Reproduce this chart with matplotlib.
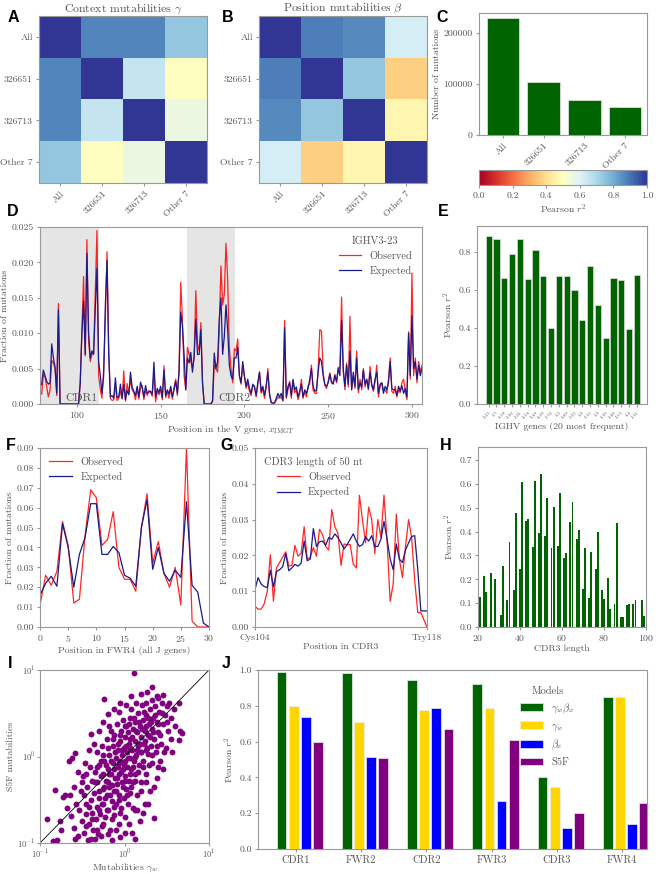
import matplotlib
matplotlib.use("Agg")
import matplotlib.pyplot as plt
import numpy as np
from matplotlib.ticker import FormatStrFormatter, NullLocator

plt.rcParams['font.family'] = 'serif'
plt.rcParams['font.serif'] = ['cmr10', 'DejaVu Serif']
plt.rcParams['mathtext.fontset'] = 'cm'
plt.rcParams['axes.formatter.use_mathtext'] = True
plt.rcParams['axes.unicode_minus'] = False
plt.rcParams['font.size'] = 7
plt.rcParams['axes.edgecolor'] = '#999999'
plt.rcParams['axes.linewidth'] = 0.8
plt.rcParams['xtick.color'] = '#999999'
plt.rcParams['ytick.color'] = '#999999'
plt.rcParams['xtick.labelcolor'] = '#555555'
plt.rcParams['ytick.labelcolor'] = '#555555'
plt.rcParams['axes.labelcolor'] = '#555555'
plt.rcParams['text.color'] = '#555555'
plt.rcParams['xtick.major.size'] = 2.5
plt.rcParams['ytick.major.size'] = 2.5
plt.rcParams['xtick.major.pad'] = 2
plt.rcParams['ytick.major.pad'] = 2
plt.rcParams['axes.labelpad'] = 2

# ---------------- data ----------------
groups = ['All', '326651', '326713', 'Other 7']
gamma_corr = [[1.00, 0.87, 0.87, 0.74],
              [0.87, 1.00, 0.65, 0.50],
              [0.87, 0.65, 1.00, 0.56],
              [0.74, 0.50, 0.56, 1.00]]
beta_corr = [[1.00, 0.88, 0.86, 0.62],
             [0.88, 1.00, 0.74, 0.37],
             [0.86, 0.74, 1.00, 0.47],
             [0.62, 0.37, 0.47, 1.00]]
n_mutations = [228000, 103000, 69000, 54000]

# panel D, positions 78..306, values in units of 1e-3
v_expected = [2.5, 2.8, 4.8, 4.0, 3.2, 2.8, 3.0, 8.5, 6.5, 5.2,
              1.5, 13.3, 0, 0, 0, 0, 0, 0, 0, 0,
              0, 0, 0, 0, 3.0, 10.0, 14.5, 7.0, 21.3, 10.0,
              6.5, 7.5, 7.0, 13.5, 19.2, 6.0, 4.0, 1.5, 4.0, 14.0,
              20.3, 7.0, 1.0, 1.2, 0.8, 3.7, 0.9, 1.0, 2.8, 0.8,
              2.8, 0.6, 1.9, 1.3, 4.5, 2.4, 1.8, 1.2, 2.5, 1.0,
              3.1, 2.3, 1.0, 2.6, 1.5, 1.7, 1.8, 1.4, 5.9, 1.0,
              2.2, 1.6, 2.5, 0.9, 4.8, 1.2, 2.0, 1.4, 2.5, 1.0,
              2.0, 3.2, 1.5, 4.5, 13.0, 11.0, 7.0, 2.0, 6.5, 5.8,
              7.3, 4.5, 6.8, 12.0, 7.0, 7.0, 10.5, 3.0, 0, 0,
              0, 0, 0, 0.5, 7.2, 5.0, 6.0, 12.0, 15.0, 7.0,
              9.5, 14.0, 10.5, 5.5, 4.0, 3.5, 6.5, 6.5, 8.0, 4.0,
              3.0, 6.0, 4.0, 2.5, 3.5, 2.2, 1.5, 2.8, 2.4, 1.2,
              3.0, 4.5, 1.8, 2.5, 1.2, 2.6, 4.5, 1.5, 0.2, 0.1,
              0.2, 0.8, 1.5, 1.0, 1.5, 0.5, 10.8, 1.0, 2.5, 3.0,
              1.2, 3.5, 2.0, 2.4, 1.0, 1.8, 2.8, 1.0, 2.0, 1.5,
              2.2, 3.5, 5.0, 2.5, 1.8, 2.0, 4.5, 6.5, 6.0, 4.0,
              2.8, 2.5, 3.0, 4.2, 3.0, 2.8, 4.0, 3.2, 5.0, 4.0,
              11.8, 5.0, 2.5, 5.5, 2.8, 7.5, 2.0, 4.5, 2.5, 6.5,
              2.0, 3.0, 2.4, 4.8, 2.8, 3.5, 2.2, 4.5, 2.8, 2.0,
              3.5, 4.5, 1.5, 2.8, 3.0, 1.5, 2.5, 2.0, 3.0, 6.0,
              2.2, 2.0, 2.0, 1.2, 2.5, 1.8, 2.6, 1.5, 2.2, 1.0,
              10.0, 4.0, 12.5, 5.0, 6.0, 3.5, 5.5, 4.0, 5.0]
v_observed = [1.5, 1.4, 4.2, 3.8, 2.4, 1.0, 2.0, 6.2, 5.8, 5.0,
              1.2, 14.2, 0, 0, 0, 0, 0, 0, 0, 0,
              0, 0, 0, 0, 2.8, 10.2, 18.0, 6.8, 23.2, 9.0,
              6.0, 7.0, 7.2, 16.0, 24.5, 4.0, 2.0, 0.8, 5.0, 12.0,
              21.5, 8.0, 0.8, 0.5, 0.6, 2.6, 0.5, 0.8, 1.8, 0.7,
              4.7, 0.4, 2.9, 1.4, 3.5, 2.0, 1.6, 0.6, 2.2, 0.7,
              2.3, 2.6, 0.6, 2.0, 1.2, 1.9, 1.6, 1.1, 4.5, 0.3,
              1.8, 1.3, 2.0, 0.6, 5.4, 0.9, 1.8, 0.8, 2.2, 0.7,
              2.4, 3.5, 1.2, 5.0, 17.2, 12.0, 4.0, 2.0, 8.0, 7.0,
              6.0, 5.0, 6.5, 16.0, 8.5, 7.5, 11.5, 3.0, 0, 0,
              0, 0, 0, 0.3, 5.5, 5.0, 4.5, 10.8, 19.5, 14.0,
              15.5, 22.7, 17.5, 8.0, 5.0, 3.0, 7.8, 7.5, 9.2, 4.0,
              2.8, 5.5, 3.8, 2.2, 3.0, 1.8, 1.2, 2.6, 2.6, 1.0,
              2.8, 4.5, 1.5, 2.2, 0.8, 2.4, 5.0, 1.2, 0.2, 0.1,
              0.1, 0.5, 1.0, 0.8, 1.0, 0.4, 11.8, 0.8, 2.0, 3.2,
              0.8, 3.2, 1.6, 2.0, 0.6, 1.4, 3.5, 0.8, 1.8, 1.0,
              2.6, 2.8, 5.5, 2.0, 1.5, 1.5, 4.8, 10.5, 10.3, 4.5,
              2.6, 2.2, 3.2, 4.4, 3.2, 3.0, 4.2, 3.0, 5.2, 5.0,
              15.1, 4.5, 2.0, 5.8, 2.4, 12.4, 2.0, 4.0, 2.2, 7.5,
              1.6, 3.5, 2.0, 5.0, 2.4, 3.5, 2.0, 5.3, 2.6, 1.8,
              3.2, 5.5, 1.0, 2.5, 3.0, 2.0, 2.0, 1.5, 3.5, 6.5,
              1.8, 1.5, 2.5, 1.0, 2.0, 1.6, 3.0, 3.5, 1.8, 0.6,
              10.2, 3.5, 18.5, 4.0, 6.5, 3.0, 6.0, 4.5, 5.5]
v_start = 78
cdr_regions = [('CDR1', 78, 113), ('CDR2', 166, 194.5)]

genes = ['3-23', '3-7', '4-59', '3-30', '3-21', '4-34', '3-48', '4-39', '3-74', '1-2',
         '1-69', '3-33', '1-8', '3-15', '3-9', '1-18', '1-46', '3-53', '4-4', '3-11']
gene_r2 = [0.885, 0.865, 0.66, 0.79, 0.865, 0.655, 0.81, 0.67, 0.40, 0.67,
           0.67, 0.60, 0.44, 0.725, 0.52, 0.345, 0.66, 0.65, 0.395, 0.675]

fwr4_obs = [0.011, 0.026, 0.021, 0.028, 0.053, 0.041, 0.012, 0.014, 0.046, 0.069,
            0.065, 0.041, 0.044, 0.058, 0.030, 0.024, 0.024, 0.018, 0.050, 0.067,
            0.032, 0.043, 0.027, 0.020, 0.030, 0.011, 0.090, 0.003, 0.0, 0.0, 0.0]
fwr4_exp = [0.016, 0.022, 0.0255, 0.0205, 0.052, 0.040, 0.020, 0.0365, 0.045, 0.062,
            0.062, 0.0365, 0.0365, 0.0405, 0.0375, 0.026, 0.0245, 0.0205, 0.050, 0.064,
            0.029, 0.040, 0.027, 0.023, 0.0285, 0.025, 0.063, 0.021, 0.0175, 0.002, 0.0]

cdr3_obs = [0.0058, 0.0050, 0.0050, 0.0065, 0.0100, 0.0202, 0.0072, 0.0165, 0.0180, 0.0195,
            0.0210, 0.0170, 0.0172, 0.0228, 0.0198, 0.0205, 0.0280, 0.0190, 0.0195, 0.0222,
            0.0198, 0.0273, 0.0258, 0.0225, 0.0215, 0.0328, 0.0280, 0.0262, 0.0172, 0.0232,
            0.0230, 0.0230, 0.0175, 0.0165, 0.0368, 0.0298, 0.0235, 0.0335, 0.0300, 0.0205,
            0.0300, 0.0250, 0.0368, 0.0240, 0.0072, 0.0120, 0.0315, 0.0190, 0.0138, 0.0225,
            0.0300, 0.0250, 0.0130, 0.0040, 0.0040, 0.0020, 0.0000]
cdr3_exp = [0.0105, 0.0138, 0.0120, 0.0113, 0.0110, 0.0158, 0.0112, 0.0155, 0.0160, 0.0168,
            0.0205, 0.0157, 0.0165, 0.0175, 0.0170, 0.0178, 0.0240, 0.0185, 0.0190, 0.0275,
            0.0225, 0.0238, 0.0240, 0.0228, 0.0250, 0.0245, 0.0260, 0.0250, 0.0235, 0.0218,
            0.0230, 0.0245, 0.0260, 0.0240, 0.0225, 0.0230, 0.0252, 0.0240, 0.0255, 0.0225,
            0.0225, 0.0245, 0.0295, 0.0245, 0.0190, 0.0160, 0.0232, 0.0190, 0.0180, 0.0215,
            0.0235, 0.0253, 0.0255, 0.0160, 0.0045, 0.0045, 0.0045]

cdr3_lengths = [21, 23, 24, 26, 28, 31, 32, 34, 35, 37, 38, 40, 41, 43, 44, 46, 47, 49,
                50, 52, 53, 55, 56, 58, 59, 61, 62, 64, 65, 67, 68, 70, 71, 73, 74, 76,
                77, 79, 80, 82, 83, 85, 86, 88, 89, 91, 92, 94, 95, 98, 99]
cdr3_r2 = [0.125, 0.213, 0.145, 0.226, 0.200, 0.050, 0.257, 0.113, 0.357, 0.155, 0.480, 0.243,
           0.610, 0.445, 0.453, 0.335, 0.614, 0.395, 0.643, 0.383, 0.540, 0.330, 0.505, 0.340,
           0.563, 0.288, 0.310, 0.440, 0.523, 0.370, 0.408, 0.158, 0.333, 0.123, 0.315, 0.245,
           0.400, 0.155, 0.118, 0.207, 0.075, 0.095, 0.437, 0.040, 0.040, 0.093, 0.098, 0.097,
           0.113, 0.113, 0.045]

# panel I, log10 of (gamma_w, S5F)
log_gamma = [-0.92, -0.85, -0.82, -0.80, -0.76, -0.73, -0.70, -0.66, -0.65, -0.63, -0.62, -0.60,
             -0.58, -0.57, -0.55, -0.54, -0.52, -0.50, -0.49, -0.48, -0.47, -0.46, -0.45, -0.44,
             -0.43, -0.42, -0.41, -0.40, -0.40, -0.39, -0.38, -0.37, -0.36, -0.35, -0.34, -0.33,
             -0.33, -0.32, -0.31, -0.30, -0.30, -0.29, -0.28, -0.27, -0.27, -0.26, -0.25, -0.24,
             -0.24, -0.23, -0.22, -0.21, -0.21, -0.20, -0.20, -0.19, -0.18, -0.18, -0.17, -0.16,
             -0.16, -0.15, -0.14, -0.14, -0.13, -0.12, -0.12, -0.11, -0.10, -0.10, -0.09, -0.09,
             -0.08, -0.08, -0.07, -0.07, -0.06, -0.06, -0.05, -0.05, -0.04, -0.04, -0.03, -0.03,
             -0.02, -0.02, -0.01, -0.01, 0.00, 0.00, 0.01, 0.01, 0.02, 0.02, 0.03, 0.03,
             0.04, 0.04, 0.05, 0.05, 0.06, 0.06, 0.07, 0.07, 0.08, 0.08, 0.09, 0.09,
             0.10, 0.10, 0.11, 0.11, 0.12, 0.12, 0.13, 0.13, 0.14, 0.15, 0.15, 0.16,
             0.16, 0.17, 0.18, 0.18, 0.19, 0.20, 0.20, 0.21, 0.22, 0.22, 0.23, 0.24,
             0.24, 0.25, 0.26, 0.26, 0.27, 0.28, 0.28, 0.29, 0.30, 0.30, 0.31, 0.32,
             0.33, 0.33, 0.34, 0.35, 0.35, 0.36, 0.37, 0.38, 0.39, 0.40, 0.40, 0.41,
             0.42, 0.43, 0.44, 0.45, 0.46, 0.46, 0.48, 0.49, 0.50, 0.52, 0.53, 0.55,
             0.56, 0.58, 0.60, 0.64, 0.65, 0.66, 0.68, -0.35, -0.28, -0.15, -0.05, 0.10]
log_s5f = [-0.72, -0.98, -0.39, -0.97, -0.74, -0.47, -0.45, -0.05, -0.45, -0.69, -0.02, -0.83,
           0.04, -0.55, -0.92, -0.62, -0.40, -0.75, -0.22, -0.88, -0.07, -0.55, -0.67, -0.35,
           -0.96, -0.78, -0.12, 0.26, -0.50, -0.28, -0.65, -0.85, -0.42, -0.18, -0.72, 0.05,
           -0.58, -0.30, -0.90, -0.48, -0.10, -0.66, -0.22, -0.80, 0.12, -0.38, -0.55, 0.66,
           -0.05, -0.70, -0.28, 0.20, -0.45, 0.49, -0.15, -0.62, 0.02, -0.35, -0.85, -0.20,
           0.30, -0.52, -0.08, 0.12, -0.40, -0.68, 0.25, -0.25, -0.02, -0.55, 0.38, -0.32,
           -0.12, 0.08, 0.51, -0.45, -0.78, -0.20, 0.18, -0.05, -0.60, 0.30, -0.30, 0.02,
           -0.15, 0.42, -0.48, 0.10, -0.22, 0.22, -0.05, -0.70, 0.35, -0.38, 0.05, -0.12,
           0.28, -0.55, 0.15, -0.28, 0.45, -0.02, -0.42, 0.20, -0.15, 0.55, 0.08, -0.88,
           0.32, -0.30, 0.97, -0.05, 0.18, -0.62, 0.40, -0.20, 0.02, 0.28, -0.45, 0.12,
           0.50, -0.10, 0.35, -0.75, 0.05, 0.22, -0.30, 0.60, 0.42, -0.05, 0.15, -0.55,
           0.30, 0.08, 0.48, -0.20, 0.75, 0.25, 0.03, 0.38, -0.40, 0.55, 0.12, 0.65,
           -0.08, 0.32, 0.45, -0.71, 0.20, 0.58, 0.05, 0.40, -0.25, 0.68, 0.28, 0.52,
           -0.05, 0.15, 0.62, -0.15, 0.71, 0.38, 0.48, 0.10, 0.58, 0.30, 0.62, 0.45,
           0.05, 0.55, 0.35, 0.62, 0.19, 0.29, 0.27, -0.95, -0.92, -0.97, -0.93, -0.60]
# denser core of the same cloud
log_gamma_core = [-0.35, -0.32, -0.30, -0.28, -0.27, -0.26, -0.25, -0.24, -0.23, -0.22, -0.21, -0.20,
                  -0.19, -0.18, -0.17, -0.16, -0.15, -0.14, -0.13, -0.12, -0.11, -0.10, -0.09, -0.08,
                  -0.07, -0.06, -0.05, -0.04, -0.03, -0.02, -0.01, 0.00, 0.01, 0.02, 0.03, 0.04,
                  0.05, 0.06, 0.07, 0.08, 0.09, 0.10, 0.11, 0.12, 0.13, 0.14, 0.15, 0.16,
                  0.17, 0.18, 0.19, 0.20, 0.21, 0.22, 0.23, 0.24, 0.25, 0.26, 0.27, 0.28,
                  0.29, 0.30, 0.31, 0.32, 0.34, 0.36, 0.38, 0.40, 0.42, 0.44, -0.45, -0.40,
                  -0.38, -0.33, -0.30, -0.25, -0.20, -0.15, -0.10, -0.05, 0.00, 0.05, 0.12, 0.15,
                  -0.50, -0.55, -0.45, -0.42, -0.36, -0.30, -0.25, -0.18, -0.12, -0.05, 0.02, 0.08,
                  0.14, 0.20, 0.25, 0.32, 0.38, 0.50, 0.55, 0.47, 0.40, 0.35, 0.28, 0.22,
                  -0.60, -0.68, -0.75, -0.58, -0.48, -0.42]
log_s5f_core = [-0.30, -0.12, -0.40, -0.05, -0.55, -0.20, 0.02, -0.35, -0.48, -0.10, -0.62, -0.30,
                0.10, -0.20, -0.45, -0.05, -0.33, 0.20, -0.58, -0.15, 0.05, -0.40, -0.25, 0.15,
                -0.08, -0.50, 0.25, -0.18, 0.08, -0.35, -0.10, 0.35, -0.28, 0.12, -0.45, -0.02,
                0.38, -0.20, 0.10, -0.35, 0.22, -0.12, 0.45, 0.00, -0.28, 0.30, 0.08, -0.18,
                0.40, 0.15, -0.40, 0.05, 0.32, -0.12, 0.52, 0.18, -0.30, 0.35, 0.10, 0.45,
                -0.10, 0.22, 0.40, 0.02, 0.28, 0.48, 0.12, 0.38, 0.25, 0.50, -0.80, -0.95,
                -0.72, -0.85, -0.62, -0.78, -0.90, -0.72, -0.85, -0.65, -0.88, -0.78, -0.95, -0.62,
                -0.30, -0.18, -0.20, 0.08, 0.15, 0.30, 0.40, 0.35, 0.55, 0.62, 0.60, 0.70,
                0.62, 0.72, 0.62, 0.80, 0.70, 0.40, 0.20, 0.05, -0.12, -0.35, -0.55, -0.65,
                -0.35, -0.60, -0.85, -0.95, -0.45, -0.58]

regions = ['CDR1', 'FWR2', 'CDR2', 'FWR3', 'CDR3', 'FWR4']
model_names = [r'$\gamma_w\beta_x$', r'$\gamma_w$', r'$\beta_x$', 'S5F']
model_colors = ['#006400', '#ffd700', '#0000ff', '#800080']
model_r2 = [[0.99, 0.985, 0.945, 0.92, 0.405, 0.85],
            [0.80, 0.71, 0.775, 0.785, 0.345, 0.85],
            [0.735, 0.515, 0.785, 0.27, 0.115, 0.14],
            [0.595, 0.51, 0.67, 0.61, 0.20, 0.255]]

# ---------------- layout ----------------
W, H = 658, 874
fig = plt.figure(figsize=(W / 100, H / 100), dpi=100)


def box(l, t, r, b):
    return [l / W, 1 - b / H, (r - l) / W, (b - t) / H]


def letter(x, y, s):
    fig.text(x / W, 1 - y / H, s, fontsize=11.5, fontweight='bold',
             family='Liberation Sans', color='black', va='center', ha='left')


green = '#006400'
cmap = plt.get_cmap('RdYlBu')

# A, B heatmaps
for rect, mat, title in [((39, 16, 207, 183), gamma_corr, r'Context mutabilities $\gamma$'),
                         ((259, 16, 427, 183), beta_corr, r'Position mutabilities $\beta$')]:
    ax = fig.add_axes(box(*rect))
    ax.imshow(np.array(mat), cmap=cmap, vmin=0, vmax=1, aspect='auto')
    ax.set_xticks(range(4))
    ax.set_yticks(range(4))
    ax.set_xticklabels(groups, rotation=45, ha='right', rotation_mode='anchor')
    ax.set_yticklabels(groups)
    ax.set_title(title, fontsize=8.5, pad=3)
letter(8, 17, 'A')
letter(222, 17, 'B')
letter(436, 17, 'C')

# C bars
ax = fig.add_axes(box(479, 13, 647, 135))
ax.bar(range(4), n_mutations, width=0.8, color=green, edgecolor='#dddddd', linewidth=0.6)
ax.set_xlim(-0.59, 3.54)
ax.set_ylim(0, 238500)
ax.set_yticks([0, 100000, 200000])
ax.set_yticklabels(['0', '100000', '200000'])
ax.set_xticks(range(4))
ax.set_xticklabels(groups, rotation=45, ha='right', rotation_mode='anchor')
ax.set_ylabel('Number of mutations')

# colorbar
cax = fig.add_axes(box(479, 170, 647, 185))
sm = matplotlib.cm.ScalarMappable(cmap=cmap, norm=matplotlib.colors.Normalize(0, 1))
cb = fig.colorbar(sm, cax=cax, orientation='horizontal')
cb.set_ticks([0, 0.2, 0.4, 0.6, 0.8, 1.0])
cb.ax.xaxis.set_major_formatter(FormatStrFormatter('%.1f'))
cb.set_label(r'Pearson $r^2$', labelpad=2)
cb.outline.set_edgecolor('#999999')

# D
letter(7, 211, 'D')
ax = fig.add_axes(box(40, 227, 422, 404))
pos = np.arange(v_start, v_start + len(v_expected))
for name, a, b in cdr_regions:
    ax.axvspan(a, b, color='#e5e5e5', lw=0)
ax.text(103, 0.0001, 'CDR1', ha='center', va='bottom', fontsize=8.5)
ax.text(194, 0.0001, 'CDR2', ha='center', va='bottom', fontsize=8.5)
ax.plot(pos, np.array(v_observed) / 1000, color='red', lw=0.9, alpha=0.85, label='Observed')
ax.plot(pos, np.array(v_expected) / 1000, color='#1a1a8a', lw=0.9, label='Expected')
ax.set_xlim(78, 306)
ax.set_ylim(0, 0.025)
ax.set_xticks([100, 150, 200, 250, 300])
ax.set_yticks([0, 0.005, 0.01, 0.015, 0.02, 0.025])
ax.yaxis.set_major_formatter(FormatStrFormatter('%.3f'))
ax.set_xlabel(r'Position in the V gene, $x_{\rm IMGT}$', labelpad=1)
ax.set_ylabel('Fraction of mutations')
ax.legend(title='IGHV3-23', loc='upper right', frameon=False, fontsize=7.5,
          title_fontsize=7.5, handlelength=2.2)

# E
letter(438, 211, 'E')
ax = fig.add_axes(box(477, 226, 647, 404))
ax.bar(range(len(gene_r2)), gene_r2, width=0.8, color=green, edgecolor='#dddddd', linewidth=0.5)
ax.set_xlim(-1.5, 20.3)
ax.set_ylim(0, 0.935)
ax.set_yticks([0, 0.2, 0.4, 0.6, 0.8])
ax.yaxis.set_major_formatter(FormatStrFormatter('%.1f'))
ax.set_xticks(range(len(genes)))
ax.set_xticklabels(genes, rotation=45, ha='right', rotation_mode='anchor', fontsize=3.5)
ax.set_xlabel('IGHV genes (20 most frequent)', labelpad=2)
ax.set_ylabel(r'Pearson $r^2$')

# F
letter(6, 446, 'F')
ax = fig.add_axes(box(40, 448, 209, 627))
xs = np.arange(len(fwr4_obs))
ax.plot(xs, fwr4_obs, color='red', lw=0.9, alpha=0.85, label='Observed')
ax.plot(xs, fwr4_exp, color='#1a1a8a', lw=0.9, label='Expected')
ax.set_xlim(0, 30)
ax.set_ylim(0, 0.09)
ax.set_xticks(range(0, 31, 5))
ax.yaxis.set_major_formatter(FormatStrFormatter('%.2f'))
ax.set_xlabel('Position in FWR4 (all J genes)', labelpad=1)
ax.set_ylabel('Fraction of mutations')
ax.legend(loc='upper left', frameon=False, fontsize=7.5, handlelength=2.2)

# G
letter(220, 446, 'G')
ax = fig.add_axes(box(255, 448, 427, 627))
xs = np.arange(len(cdr3_obs))
ax.plot(xs, cdr3_obs, color='red', lw=0.9, alpha=0.85, label='Observed')
ax.plot(xs, cdr3_exp, color='#1a1a8a', lw=0.9, label='Expected')
ax.set_xlim(0, len(cdr3_obs) - 1)
ax.set_ylim(0, 0.05)
ax.set_xticks([0, len(cdr3_obs) - 1])
ax.set_xticklabels(['Cys104', 'Try118'])
ax.yaxis.set_major_formatter(FormatStrFormatter('%.2f'))
ax.set_xlabel('Position in CDR3', labelpad=1)
ax.set_ylabel('Fraction of mutations')
ax.legend(title='CDR3 length of 50 nt', loc='upper left', frameon=False, fontsize=7.5,
          title_fontsize=7.5, handlelength=2.2)

# H
letter(440, 446, 'H')
ax = fig.add_axes(box(478, 447, 646, 627))
ax.bar(cdr3_lengths, cdr3_r2, width=0.95, color=green, linewidth=0)
ax.set_xlim(20, 100)
ax.set_ylim(0, 0.755)
ax.set_xticks([20, 40, 60, 80, 100])
ax.set_yticks(np.arange(0, 0.71, 0.1))
ax.yaxis.set_major_formatter(FormatStrFormatter('%.1f'))
ax.set_xlabel('CDR3 length', labelpad=1)
ax.set_ylabel(r'Pearson $r^2$')

# I
letter(8, 664, 'I')
ax = fig.add_axes(box(40, 670, 209, 843))
ax.scatter(10 ** np.array(log_gamma), 10 ** np.array(log_s5f), s=18, color='#800080', lw=0)
ax.scatter(10 ** np.array(log_gamma_core), 10 ** np.array(log_s5f_core), s=18,
           color='#800080', lw=0)
ax.plot([0.1, 10], [0.1, 10], color='black', lw=0.6)
ax.set_xscale('log')
ax.set_yscale('log')
ax.set_xlim(0.1, 10)
ax.set_ylim(0.1, 10)
ax.xaxis.set_minor_locator(NullLocator())
ax.yaxis.set_minor_locator(NullLocator())
ax.tick_params(labelsize=6, pad=1)
ax.set_xlabel(r'Mutabilities $\gamma_w$')
ax.xaxis.set_label_coords(0.5, -0.106)
ax.set_ylabel('S5F mutabilities')

# J
letter(222, 664, 'J')
ax = fig.add_axes(box(258, 670, 647, 849))
xr = np.arange(len(regions))
for i in range(4):
    ax.bar(xr - 0.22 + i * 0.186, model_r2[i], width=0.15, color=model_colors[i],
           edgecolor='#eeeeee', linewidth=0.5, label=model_names[i])
ax.set_xlim(-0.58, 5.38)
ax.set_ylim(0, 1.0)
ax.set_xticks(xr)
ax.set_xticklabels(regions, fontsize=7.5)
ax.yaxis.set_major_formatter(FormatStrFormatter('%.1f'))
ax.set_ylabel(r'Pearson $r^2$')
ax.legend(title='Models', loc='upper left', bbox_to_anchor=(0.65, 0.96), frameon=False,
          fontsize=7.5, title_fontsize=7.5, handlelength=2.2, handleheight=0.8)

fig.savefig('out.png', dpi=100)
